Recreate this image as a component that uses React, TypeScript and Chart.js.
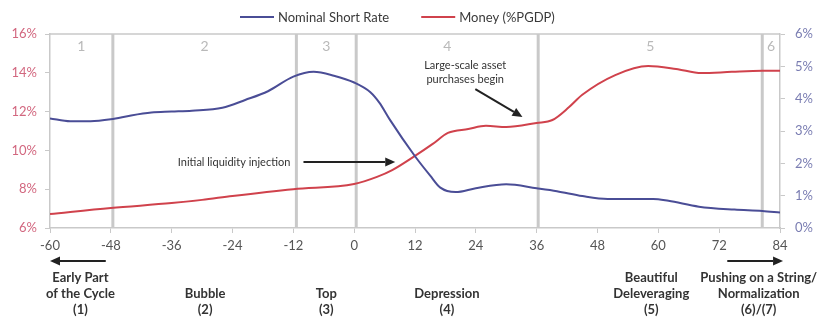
import React, { useEffect, useRef } from 'react';
import { Chart, registerables } from 'chart.js';

Chart.register(...registerables);

// ---- Data ----
const rateMonths = [-60, -56, -52, -48, -44, -40, -36, -32, -26, -21.5, -17, -12, -8, -4, 0, 3.2, 5, 7, 12, 15, 17, 20, 24, 30, 36, 40, 45, 50, 55, 59, 62, 68, 75, 80.5, 84];
const rateValues = [11.65, 11.5, 11.5, 11.6, 11.8, 11.95, 12.0, 12.05, 12.2, 12.6, 13.05, 13.8, 14.05, 13.85, 13.5, 13.0, 12.45, 11.6, 9.7, 8.7, 8.08, 7.85, 8.05, 8.25, 8.05, 7.9, 7.65, 7.5, 7.5, 7.5, 7.4, 7.1, 6.95, 6.88, 6.8];

const moneyMonths = [-60, -48, -36, -30, -24, -12, 0, 4.5, 7.5, 12, 15.5, 18.5, 22.5, 26, 30, 36, 39.1, 42.4, 45, 51.5, 58, 63.5, 68.5, 74.5, 80.5, 84];
const moneyValues = [0.43, 0.62, 0.77, 0.87, 0.99, 1.2, 1.36, 1.58, 1.79, 2.23, 2.6, 2.94, 3.06, 3.16, 3.12, 3.25, 3.34, 3.74, 4.12, 4.73, 5.01, 4.92, 4.79, 4.83, 4.86, 4.86];

const seriesNames = ['Nominal Short Rate', 'Money (%PGDP)'];

const phaseLines = [-47.6, -11.4, 0.4, 36.3, 80.5];
const phaseBounds = [-60, -47.6, -11.4, 0.4, 36.3, 80.5, 84];
const phaseNumbers = ['1', '2', '3', '4', '5', '6'];

const phaseLabels = [
  ['Early Part', 'of the Cycle', '(1)'],
  ['Bubble', '(2)'],
  ['Top', '(3)'],
  ['Depression', '(4)'],
  ['Beautiful', 'Deleveraging', '(5)'],
  ['Pushing on a String/', 'Normalization', '(6)/(7)'],
];
const phaseLabelCenters = [-54, -29.4, -5.5, 18.3, 58.6, 79.8];

const annoLiquidity = { text: 'Initial liquidity injection', textRightX: -12.6, y: 9.4, arrowFromX: -10, arrowToX: 8.1 };
const annoAsset = { lines: ['Large-scale asset', 'purchases begin'], centerX: 21.9, ys: [14.4, 13.68], fromX: 23.9, fromY: 13.16, toX: 33.2, toY: 11.72 };

const bottomArrows = [
  { from: -49, to: -60 },
  { from: 73.6, to: 84.6 },
];

const BLUE = '#4a4d96';
const RED = '#d0424c';
const GRID = '#c9c9c9';
const FONT = 'Lato';

function drawArrow(ctx: CanvasRenderingContext2D, x1: number, y1: number, x2: number, y2: number) {
  const ang = Math.atan2(y2 - y1, x2 - x1);
  const head = 10;
  const hw = 4.5;
  const bx = x2 - head * Math.cos(ang);
  const by = y2 - head * Math.sin(ang);
  ctx.save();
  ctx.strokeStyle = '#222';
  ctx.fillStyle = '#222';
  ctx.lineWidth = 2;
  ctx.beginPath();
  ctx.moveTo(x1, y1);
  ctx.lineTo(bx, by);
  ctx.stroke();
  ctx.beginPath();
  ctx.moveTo(x2, y2);
  ctx.lineTo(bx + hw * Math.sin(ang), by - hw * Math.cos(ang));
  ctx.lineTo(bx - hw * Math.sin(ang), by + hw * Math.cos(ang));
  ctx.closePath();
  ctx.fill();
  ctx.restore();
}

const decorPlugin = {
  id: 'decor',
  beforeDatasetsDraw(chart: any) {
    const { ctx, chartArea, scales } = chart;
    const xs = scales.x;
    ctx.save();
    ctx.strokeStyle = GRID;
    ctx.lineWidth = 3;
    phaseLines.forEach((v) => {
      const px = xs.getPixelForValue(v);
      ctx.beginPath();
      ctx.moveTo(px, chartArea.top);
      ctx.lineTo(px, chartArea.bottom);
      ctx.stroke();
    });
    ctx.lineWidth = 1.5;
    ctx.beginPath();
    ctx.moveTo(chartArea.left, chartArea.top);
    ctx.lineTo(chartArea.right, chartArea.top);
    ctx.stroke();
    ctx.restore();
  },
  afterDraw(chart: any) {
    const { ctx, chartArea, scales } = chart;
    const xs = scales.x;
    const yl = scales.y;
    ctx.save();
    // phase numbers
    ctx.font = `14px ${FONT}`;
    ctx.fillStyle = '#b9b9b9';
    ctx.textAlign = 'center';
    ctx.textBaseline = 'middle';
    phaseNumbers.forEach((n, i) => {
      const mid = (phaseBounds[i] + phaseBounds[i + 1]) / 2;
      ctx.fillText(n, xs.getPixelForValue(mid), chartArea.top + 12);
    });

    // legend
    const ly = 17;
    let lx = 240;
    ctx.font = `13px ${FONT}`;
    ctx.textAlign = 'left';
    ctx.fillStyle = '#3a3a3a';
    const colors = [BLUE, RED];
    seriesNames.forEach((name, i) => {
      ctx.strokeStyle = colors[i];
      ctx.lineWidth = 2;
      ctx.beginPath();
      ctx.moveTo(lx, ly);
      ctx.lineTo(lx + 34, ly);
      ctx.stroke();
      lx += 38;
      ctx.fillText(name, lx, ly + 1);
      lx += ctx.measureText(name).width + 32;
    });

    // annotations
    ctx.font = `11px ${FONT}`;
    ctx.fillStyle = '#333';
    ctx.textAlign = 'right';
    ctx.fillText(annoLiquidity.text, xs.getPixelForValue(annoLiquidity.textRightX), yl.getPixelForValue(annoLiquidity.y));
    drawArrow(ctx, xs.getPixelForValue(annoLiquidity.arrowFromX), yl.getPixelForValue(annoLiquidity.y), xs.getPixelForValue(annoLiquidity.arrowToX), yl.getPixelForValue(annoLiquidity.y));
    ctx.textAlign = 'center';
    annoAsset.lines.forEach((t, i) => {
      ctx.fillText(t, xs.getPixelForValue(annoAsset.centerX), yl.getPixelForValue(annoAsset.ys[i]));
    });
    drawArrow(ctx, xs.getPixelForValue(annoAsset.fromX), yl.getPixelForValue(annoAsset.fromY), xs.getPixelForValue(annoAsset.toX), yl.getPixelForValue(annoAsset.toY));

    // bottom arrows
    const ay = chartArea.bottom + 33;
    bottomArrows.forEach((a) => {
      drawArrow(ctx, xs.getPixelForValue(a.from), ay, xs.getPixelForValue(a.to), ay);
    });

    // bottom labels
    ctx.font = `bold 13px ${FONT}`;
    ctx.fillStyle = '#333';
    ctx.textAlign = 'center';
    const lastY = chartArea.bottom + 82;
    phaseLabels.forEach((lines, i) => {
      const cx = xs.getPixelForValue(phaseLabelCenters[i]);
      lines.forEach((t, j) => {
        const yy = lastY - (lines.length - 1 - j) * 16;
        ctx.fillText(t, cx, yy);
      });
    });
    ctx.restore();
  },
};

export default function App() {
  const ref = useRef<HTMLCanvasElement | null>(null);
  useEffect(() => {
    if (!ref.current) return;
    const chart = new Chart(ref.current, {
      type: 'line',
      data: {
        datasets: [
          {
            label: seriesNames[0],
            data: rateMonths.map((m, i) => ({ x: m, y: rateValues[i] })),
            borderColor: BLUE,
            borderWidth: 2,
            pointRadius: 0,
            cubicInterpolationMode: 'monotone',
            yAxisID: 'y',
          },
          {
            label: seriesNames[1],
            data: moneyMonths.map((m, i) => ({ x: m, y: moneyValues[i] })),
            borderColor: RED,
            borderWidth: 2,
            pointRadius: 0,
            cubicInterpolationMode: 'monotone',
            yAxisID: 'y1',
          },
        ],
      },
      options: {
        responsive: false,
        animation: false,
        layout: { padding: { top: 34, left: 0, right: 0, bottom: 0 } },
        plugins: { legend: { display: false }, tooltip: { enabled: false } },
        scales: {
          x: {
            type: 'linear',
            min: -60,
            max: 84,
            afterFit: (s: any) => { s.height = 98; },
            ticks: { stepSize: 12, color: '#555', font: { family: FONT, size: 13 }, padding: 5, maxRotation: 0 },
            grid: { drawOnChartArea: false, color: GRID, tickLength: 5 },
            border: { color: GRID, width: 1.5 },
          },
          y: {
            position: 'left',
            min: 6,
            max: 16,
            afterFit: (s: any) => { s.width = 50; },
            ticks: { stepSize: 2, color: '#d2677f', font: { family: FONT, size: 13 }, padding: 8, callback: (v: any) => `${v}%` },
            grid: { drawOnChartArea: false, color: GRID, tickLength: 5 },
            border: { color: GRID, width: 1.5 },
          },
          y1: {
            position: 'right',
            min: 0,
            max: 6,
            afterFit: (s: any) => { s.width = 50; },
            ticks: { stepSize: 1, color: '#7a7db2', font: { family: FONT, size: 13 }, padding: 10, callback: (v: any) => `${v}%` },
            grid: { drawOnChartArea: false, color: GRID, tickLength: 5 },
            border: { color: GRID, width: 1.5 },
          },
        },
      },
      plugins: [decorPlugin],
    } as any);
    return () => chart.destroy();
  }, []);
  return (
    <div style={{ position: 'absolute', left: 0, top: 0, width: 830, height: 326, background: '#fff' }}>
      <canvas ref={ref} width={830} height={326} />
    </div>
  );
}
